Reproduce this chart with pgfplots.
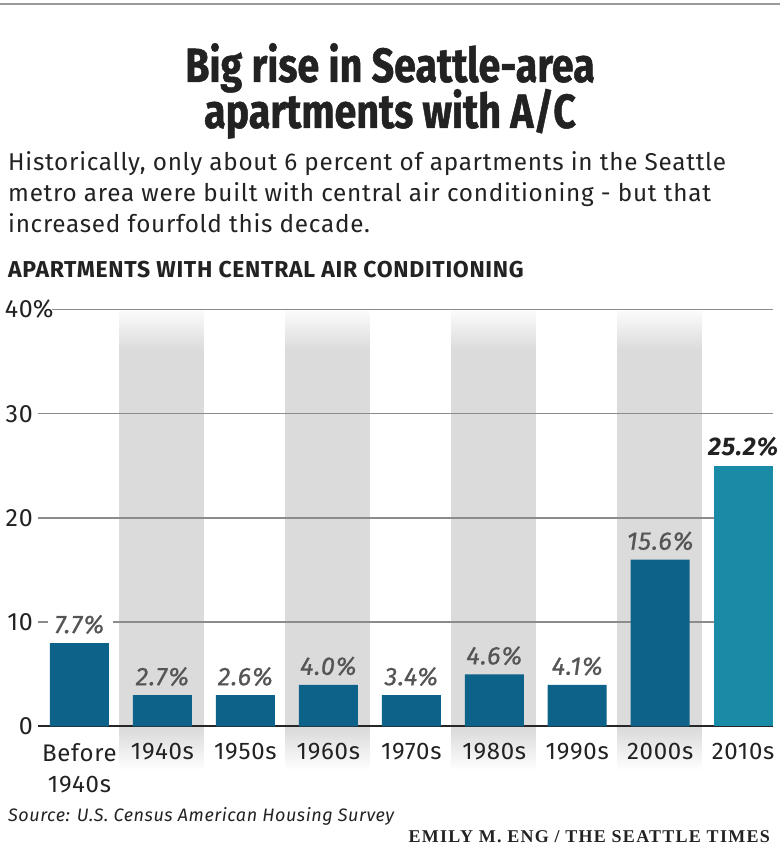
\documentclass[border=0pt]{standalone}
\usepackage{pgfplots}
\pgfplotsset{compat=1.18}
\usepackage{fontspec}
\setmainfont{Fira Sans}[LetterSpace=3]
\newfontfamily\titlefont{Fira Sans}[FakeStretch=0.82, BoldFeatures={FakeBold=1}]
\newfontfamily\labelfont{Fira Sans}[LetterSpace=3, ItalicFeatures={FakeBold=0.6}]
\newfontfamily\creditfont{Liberation Serif}[LetterSpace=7]

\definecolor{barblue}{HTML}{0D628A}
\definecolor{barteal}{HTML}{1A8BA7}
\definecolor{bandgray}{HTML}{DBDBDB}
\definecolor{gridgray}{HTML}{8C8C8C}
\definecolor{labelgray}{HTML}{555555}
\definecolor{textblack}{HTML}{222222}

% gray column bands, faded at top and bottom
\pgfdeclareverticalshading{band}{100bp}{color(0bp)=(white); color(25bp)=(white);
  color(29.5bp)=(bandgray); color(70.6bp)=(bandgray);
  color(75bp)=(white!92!bandgray); color(100bp)=(white!92!bandgray)}

\pgfplotsset{frame/.style={
  at={(38pt,123.5pt)}, anchor=south west,
  scale only axis, width=735pt, height=417pt,
  xmin=-0.5, xmax=8.36, ymin=0, ymax=40, clip=false}}

% bar height as drawn, label as printed
\pgfplotstableread{
x y label
0 8 7.7
1 3 2.7
2 3 2.6
3 4 4.0
4 3 3.4
5 5 4.6
6 4 4.1
7 16 15.6
}\olderdecades
\pgfplotstableread{
x y label
8 25 25.2
}\lastdecade

\begin{document}
\begin{tikzpicture}[x=1pt,y=1pt]
\useasboundingbox (0,0) rectangle (780,850);
\draw[gray!80, line width=2pt] (0,846) -- (780,846);

\node[anchor=base, text=textblack, font=\titlefont\bfseries\fontsize{48}{48}\selectfont] at (390,768) {Big rise in Seattle-area};
\node[anchor=base, text=textblack, font=\titlefont\bfseries\fontsize{48}{48}\selectfont] at (390,722) {apartments with A/C};

\begin{scope}[every node/.style={anchor=base west, inner sep=0pt, text=textblack, font=\fontsize{24.3}{24}\selectfont}]
\node at (8,679) {Historically, only about 6 percent of apartments in the Seattle};
\node at (8,648) {metro area were built with central air conditioning - but that};
\node at (8,617) {increased fourfold this decade.};
\end{scope}
\node[anchor=base west, inner sep=0pt, text=textblack, font=\bfseries\fontsize{23}{23}\selectfont] at (8,572) {APARTMENTS WITH CENTRAL AIR CONDITIONING};

% background: bands and gridlines
\begin{axis}[frame, hide axis]
\pgfplotsinvokeforeach{1,3,5,7}{
  \shade[shading=band] (axis cs:#1-0.52,40) rectangle (axis cs:#1+0.5,-4.2);
}
\draw[gridgray, line width=1.5pt] (axis cs:-0.33,40) -- (axis cs:8.36,40);
\draw[gridgray, line width=1.5pt] (axis cs:-0.5,30) -- (axis cs:8.36,30);
\draw[gridgray, line width=1.5pt] (axis cs:-0.5,20) -- (axis cs:8.36,20);
\draw[gridgray, line width=1.5pt] (axis cs:-0.5,10) -- (axis cs:-0.38,10);
\draw[gridgray, line width=1.5pt] (axis cs:0.404,10) -- (axis cs:8.36,10);
\draw[black!85, line width=2pt] (axis cs:-0.5,0) -- (axis cs:8.36,0);
\end{axis}

\begin{axis}[
  frame,
  axis line style={draw=none}, major tick length=0pt,
  ytick={0,10,20,30,40},
  yticklabels={0,10,20,30,{40\rlap{\%}}},
  yticklabel style={font=\fontsize{25}{25}\selectfont, text=textblack, anchor=east, inner sep=0pt, xshift=-5pt},
  xtick={0,...,8},
  xticklabels={{Before\\1940s},1940s,1950s,1960s,1970s,1980s,1990s,2000s,2010s},
  xticklabel style={font=\fontsize{24}{31}\selectfont, text=textblack, align=center, anchor=north, inner sep=0pt, yshift=-16.5pt},
  ybar, bar width=59pt, bar shift=0pt,
  point meta=explicit symbolic,
  nodes near coords={\pgfplotspointmeta\%},
]
\addplot[fill=barblue, draw=none,
  every node near coord/.append style={anchor=base, inner sep=0pt, yshift=10pt, text=labelgray, font=\labelfont\itshape\fontsize{25.5}{25.5}\selectfont}]
  table[x=x, y=y, meta=label] {\olderdecades};
\addplot[fill=barteal, draw=none,
  every node near coord/.append style={anchor=base, inner sep=0pt, yshift=10pt, text=textblack, font=\bfseries\itshape\fontsize{25.5}{25.5}\selectfont}]
  table[x=x, y=y, meta=label] {\lastdecade};
\end{axis}

\node[anchor=base west, inner sep=0pt, text=textblack, font=\itshape\fontsize{18}{18}\selectfont] at (8,28) {Source: U.S. Census American Housing Survey};
\node[anchor=base east, inner sep=0pt, text=textblack, font=\creditfont\bfseries\fontsize{18}{18}\selectfont] at (770,8) {EMILY M. ENG / THE SEATTLE TIMES};
\end{tikzpicture}
\end{document}
